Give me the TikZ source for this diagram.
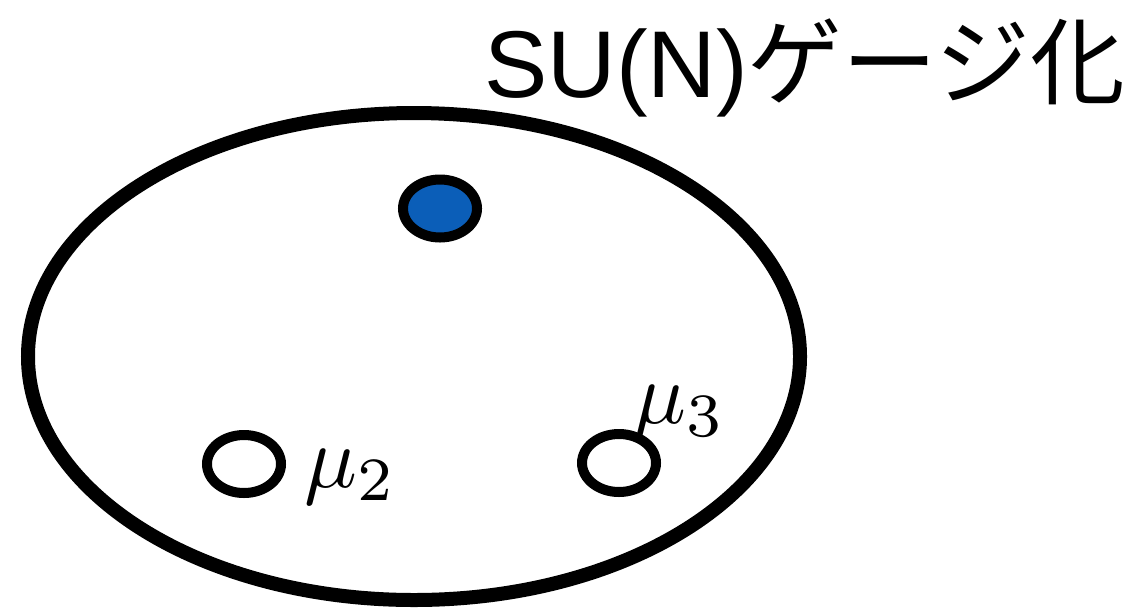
\documentclass[tikz,border=0pt]{standalone}
\usepackage{amsmath,amssymb}
\usepackage{xcolor}
\usepackage{fontspec}
\setmainfont{Liberation Sans}
\newfontfamily\jpfont{Noto Sans CJK JP}
\usetikzlibrary{shapes.geometric}
\definecolor{cbBlue}{HTML}{0B5EB8}

\begin{document}
\begin{tikzpicture}[
  surface/.style={draw, ellipse, line width=0.28cm, inner sep=0pt, minimum width=15.44cm, minimum height=9.74cm},
  hole/.style={draw, ellipse, line width=0.2cm, inner sep=0pt, minimum width=1.48cm, minimum height=1.16cm, fill=#1},
  hole/.default=white,
  lab/.style={inner sep=0pt, anchor=base west, scale=5, transform shape}
]
\useasboundingbox (0,0) rectangle (22.7,-12.18);
% title
\node[inner sep=0pt, anchor=base west, font=\fontsize{54}{64}\selectfont] (title) at (9.68,-1.94) {SU(N){\jpfont ゲージ化}};
% Riemann surface
\node[surface] (surf) at (8.28,-7.13) {};
% punctures
\node[hole=cbBlue] (full) at (8.8,-4.17) {};
\node[hole] (mu2hole) at (4.88,-9.28) {};
\node[hole] (mu3hole) at (12.38,-9.26) {};
% labels
\node[lab] (mu2) at (6.06,-9.74) {$\mu_2$};
\node[lab] (mu3) at (12.64,-8.46) {$\mu_3$};
\end{tikzpicture}
\end{document}
